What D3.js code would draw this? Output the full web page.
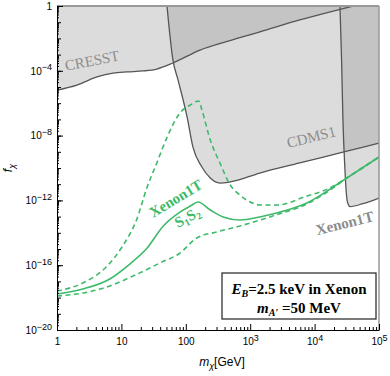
<!DOCTYPE html>
<html>
<head>
<meta charset="utf-8">
<script src="https://cdn.jsdelivr.net/npm/d3@7"></script>
<style>
  body { margin: 0; background: #fff; }
  svg { display: block; }
</style>
</head>
<body>
<div id="graph"></div>
<script>

// values, as [log10 m_chi (GeV), log10 f_chi]
var cresstLimit = [[0,-5.19],[0.31,-4.88],[0.62,-4.38],[0.87,-4.14],[1.09,-4.07],[1.34,-4.01],[1.55,-3.89],
  [1.80,-3.52],[2.22,-2.72],[2.7,-2.12],[3.15,-1.60],[3.77,-0.86],[4.35,-0.25],[4.6,0]];
var cdmsLimit = [[1.708,0],[1.80,-3.33],[1.88,-4.57],[2.02,-6.85],[2.11,-8.70],[2.25,-9.94],[2.38,-10.62],
  [2.53,-10.93],[2.69,-10.86],[3.15,-10.31],[3.77,-9.69],[4.47,-8.99],[5,-8.46]];
var xenonLimit = [[4.394,0],[4.42,-3.5],[4.44,-7.0],[4.47,-10.0],[4.49,-11.4],[4.51,-12.1],[4.55,-12.38],
  [4.75,-12.2],[5,-11.85]];

var s1s2Central = [[0,-17.78],[0.40,-17.47],[0.82,-16.85],[1.13,-15.93],[1.40,-14.94],[1.65,-13.58],[1.91,-12.72],
  [2.07,-12.35],[2.19,-12.10],[2.38,-12.59],[2.58,-13.02],[2.84,-13.21],[3.15,-13.02],[3.35,-12.84],
  [3.88,-12.16],[4.50,-10.62],[5,-9.32]];
var s1s2Upper = [[0,-17.59],[0.40,-17.10],[0.78,-16.05],[1.02,-14.81],[1.24,-13.15],[1.40,-11.17],[1.55,-9.69],
  [1.71,-8.09],[1.91,-6.60],[2.07,-6.11],[2.20,-5.86],[2.25,-6.42],[2.38,-8.27],[2.53,-9.69],[2.69,-11.05],
  [2.84,-11.67],[3.00,-12.10],[3.15,-12.28],[3.42,-12.28],[3.88,-11.73],[4.20,-11.3],[4.50,-10.62],[5,-9.32]];
var s1s2Lower = [[0,-17.90],[0.40,-17.72],[0.82,-17.28],[1.18,-16.67],[1.60,-15.86],[1.91,-15.25],[2.17,-14.32],
  [2.48,-13.95],[2.84,-13.58],[3.35,-12.96],[3.88,-12.22],[4.24,-11.36],[4.50,-10.62],[5,-9.32]];

var massTicks = [1, 10, 100, 1e3, 1e4, 1e5];
var fLabelTicks = [1, 1e-4, 1e-8, 1e-12, 1e-16, 1e-20];

// label anchors, [log10 m, log10 f, angle]
var labels = [
  {text: "CRESST", at: [0.14, -4.0], angle: -11, color: "#8c8c8c", weight: "normal"},
  {text: "CDMS1", at: [3.59, -8.77], angle: -14, color: "#8c8c8c", weight: "normal"},
  {text: "Xenon1T", at: [4.04, -14.15], angle: -14, color: "#8c8c8c", weight: "bold"},
  {text: "Xenon1T", at: [1.49, -13.09], angle: -31, color: "#3dba6a", weight: "bold"}
];

var margin = {top: 6, right: 11, bottom: 46, left: 57},
    width = 390 - margin.left - margin.right,
    height = 376 - margin.top - margin.bottom;

var green = "#3dba6a";

var svg = d3.select("#graph")
  .append("svg")
    .attr("width", 390)
    .attr("height", 376)
  .append("g")
    .attr("transform", "translate(" + margin.left + "," + margin.top + ")");

var x = d3.scaleLog().domain([1, 1e5]).range([0, width]);
var y = d3.scaleLog().domain([1e-20, 1]).range([height, 0]);

var px = function(d) { return x(Math.pow(10, d[0])); };
var py = function(d) { return y(Math.pow(10, d[1])); };

var line = d3.line().x(px).y(py).curve(d3.curveMonotoneX);
var above = d3.area().x(px).y0(y(1)).y1(py).curve(d3.curveMonotoneX);

var defs = svg.append("defs");
defs.append("clipPath").attr("id", "plot-clip")
  .append("rect").attr("width", width).attr("height", height);
defs.append("clipPath").attr("id", "cresst-clip")
  .append("path").attr("d", above(cresstLimit));
defs.append("clipPath").attr("id", "cdms-clip")
  .append("path").attr("d", above(cdmsLimit));

var plot = svg.append("g").attr("clip-path", "url(#plot-clip)");

// excluded regions
[cresstLimit, cdmsLimit, xenonLimit].forEach(function(c) {
  plot.append("path").attr("d", above(c)).attr("fill", "#dcdcdc");
});
plot.append("g").attr("clip-path", "url(#cresst-clip)")
  .append("path").attr("d", above(cdmsLimit)).attr("fill", "#c4c4c4");
plot.append("g").attr("clip-path", "url(#cdms-clip)")
  .append("path").attr("d", above(xenonLimit)).attr("fill", "#c4c4c4");

[cresstLimit, cdmsLimit, xenonLimit].forEach(function(c) {
  plot.append("path").attr("d", line(c))
    .attr("fill", "none").attr("stroke", "#555").attr("stroke-width", 1.3);
});

// Xenon1T S1S2 projections
plot.append("path").attr("d", line(s1s2Upper))
  .attr("fill", "none").attr("stroke", green).attr("stroke-width", 1.6).attr("stroke-dasharray", "5,3.5");
plot.append("path").attr("d", line(s1s2Lower))
  .attr("fill", "none").attr("stroke", green).attr("stroke-width", 1.6).attr("stroke-dasharray", "5,3.5");
plot.append("path").attr("d", line(s1s2Central))
  .attr("fill", "none").attr("stroke", green).attr("stroke-width", 1.6);

// labels
labels.forEach(function(l) {
  svg.append("text")
    .attr("transform", "translate(" + px(l.at) + "," + py(l.at) + ") rotate(" + l.angle + ")")
    .attr("font-family", "Liberation Serif, Times New Roman, serif")
    .attr("font-size", 15)
    .attr("font-weight", l.weight)
    .attr("fill", l.color)
    .text(l.text);
});
var s12 = svg.append("text")
  .attr("transform", "translate(" + px([1.88, -13.7]) + "," + py([1.88, -13.7]) + ") rotate(-29)")
  .attr("font-family", "Liberation Serif, Times New Roman, serif")
  .attr("font-size", 15).attr("font-weight", "bold").attr("fill", green);
s12.append("tspan").text("S");
s12.append("tspan").attr("font-size", 10).attr("dy", 3).text("1");
s12.append("tspan").attr("dy", -3).text("S");
s12.append("tspan").attr("font-size", 10).attr("dy", 3).text("2");

// frame (top / right)
svg.append("line").attr("x1", 0).attr("x2", width).attr("y1", 0).attr("y2", 0)
  .attr("stroke", "#999").attr("stroke-width", 2);
svg.append("line").attr("x1", width).attr("x2", width).attr("y1", 0).attr("y2", height)
  .attr("stroke", "#999").attr("stroke-width", 1.5);

// ticks
var allDecadesF = d3.range(-20, 1).map(function(e) { return Math.pow(10, e); });
var minorF = [];
d3.range(-20, 0).forEach(function(e) {
  for (var k = 2; k < 10; k++) minorF.push(k * Math.pow(10, e));
});
var minorM = [];
d3.range(0, 5).forEach(function(e) {
  for (var k = 2; k < 10; k++) minorM.push(k * Math.pow(10, e));
});

var tickFont = "Liberation Sans, Arial, sans-serif";

function supLabel(sel, isY) {
  sel.selectAll(".tick text").each(function(d) {
    var t = d3.select(this);
    var e = Math.round(Math.log10(d));
    t.text(null);
    if (isY ? e === 0 : e <= 2) {
      t.text(d3.format("d")(d));
    } else {
      t.append("tspan").text("10");
      t.append("tspan").attr("font-size", 9).attr("dy", "-0.45em")
        .text(e < 0 ? "\u2212" + (-e) : e);
    }
  });
}

svg.append("g")
  .call(d3.axisLeft(y).tickValues(minorF).tickSize(-2).tickFormat(""))
  .call(function(g) { g.select(".domain").remove(); });
svg.append("g")
  .call(d3.axisLeft(y).tickValues(allDecadesF).tickSize(-4).tickFormat(""))
  .call(function(g) { g.select(".domain").remove(); });
svg.append("g")
  .attr("font-family", tickFont).attr("font-size", 12)
  .call(d3.axisLeft(y).tickValues(fLabelTicks).tickSizeInner(-6).tickSizeOuter(0).tickPadding(5))
  .call(function(g) { supLabel(g, true); g.selectAll(".tick text").attr("fill", "#000"); });

svg.append("g")
  .attr("transform", "translate(0," + height + ")")
  .call(d3.axisBottom(x).tickValues(minorM).tickSize(-3).tickFormat(""))
  .call(function(g) { g.select(".domain").remove(); });
svg.append("g")
  .attr("transform", "translate(0," + height + ")")
  .attr("font-family", tickFont).attr("font-size", 12)
  .call(d3.axisBottom(x).tickValues(massTicks).tickSizeInner(-6).tickSizeOuter(0).tickPadding(8))
  .call(function(g) { supLabel(g, false); g.selectAll(".tick text").attr("fill", "#000"); });

// axis titles
var xt = svg.append("text")
  .attr("x", width / 2 + 4).attr("y", height + 36)
  .attr("text-anchor", "middle")
  .attr("font-family", tickFont).attr("font-size", 12);
xt.append("tspan").attr("font-style", "italic").text("m");
xt.append("tspan").attr("font-style", "italic").attr("font-size", 9).attr("dy", 3).text("\u03c7");
xt.append("tspan").attr("dy", -3).text("[GeV]");

var yt = svg.append("text")
  .attr("transform", "translate(" + (-45) + "," + (height / 2) + ") rotate(-90)")
  .attr("text-anchor", "middle")
  .attr("font-family", tickFont).attr("font-size", 12);
yt.append("tspan").attr("font-style", "italic").text("f");
yt.append("tspan").attr("font-style", "italic").attr("font-size", 9).attr("dy", 3).text("\u03c7");

// benchmark box
var box = svg.append("g").attr("transform", "translate(" + (222 - margin.left) + "," + (273 - margin.top) + ")");
box.append("rect").attr("width", 154).attr("height", 46)
  .attr("fill", "#fff").attr("stroke", "#222").attr("stroke-width", 1.2);
var l1 = box.append("text").attr("x", 77).attr("y", 21).attr("text-anchor", "middle")
  .attr("font-family", "Liberation Serif, Times New Roman, serif").attr("font-size", 15).attr("font-weight", "bold");
l1.append("tspan").attr("font-style", "italic").text("E");
l1.append("tspan").attr("font-style", "italic").attr("font-size", 10).attr("dy", 3).text("B");
l1.append("tspan").attr("dy", -3).text("=2.5 keV in Xenon");
var l2 = box.append("text").attr("x", 77).attr("y", 40).attr("text-anchor", "middle")
  .attr("font-family", "Liberation Serif, Times New Roman, serif").attr("font-size", 15).attr("font-weight", "bold");
l2.append("tspan").attr("font-style", "italic").text("m");
l2.append("tspan").attr("font-style", "italic").attr("font-size", 10).attr("dy", 3).text("A\u2032");
l2.append("tspan").attr("dy", -3).text(" =50 MeV");

</script>
</body>
</html>
